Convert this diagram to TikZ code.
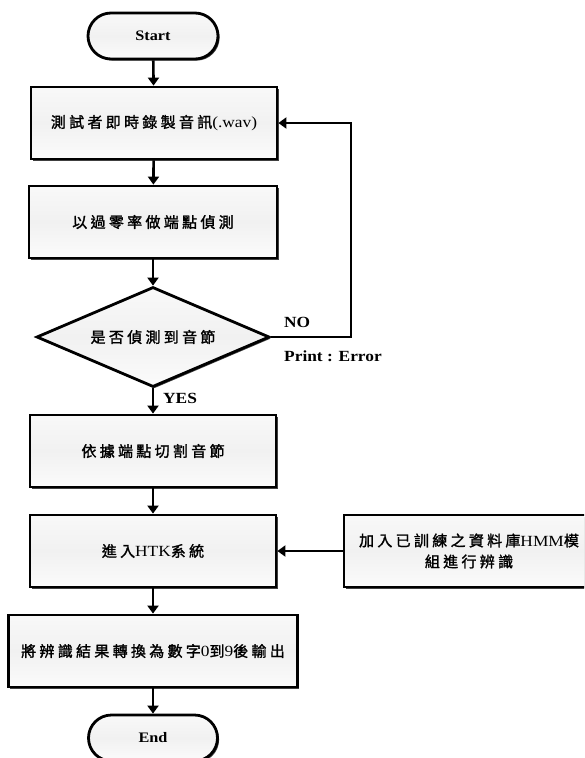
\documentclass[tikz,border=0pt]{standalone}
\usepackage{fontspec}
\setmainfont{Liberation Serif}[FakeStretch=1.12]
\newfontfamily\cjk{Noto Sans CJK TC}[LetterSpace=22, FakeBold=1.6]
\usetikzlibrary{arrows.meta,shapes.geometric,shadows}

\tikzset{
  boxfill/.style={top color=gray!5, bottom color=gray!3, middle color=gray!11},
  shade/.style={drop shadow={shadow xshift=1.6pt, shadow yshift=-1.6pt, fill=black, opacity=0.75}},
  procbox/.style={draw=black, line width=2.8pt, boxfill, shade, rectangle,
    minimum width=246pt, minimum height=72pt, inner sep=0pt, align=center,
    font=\fontsize{15.5}{20}\selectfont},
  termbox/.style={draw=black, line width=2.8pt, boxfill, shade, rectangle,
    rounded corners=23pt, minimum width=130pt, minimum height=46pt, inner sep=0pt,
    font=\fontsize{14.5}{16}\selectfont\bfseries},
  decbox/.style={draw=black, line width=2.8pt, boxfill, shade, diamond,
    minimum width=233pt, minimum height=100pt, inner sep=0pt},
  flow/.style={line width=2.6pt, -{Triangle[width=11pt,length=8pt]}},
  lbl/.style={font=\fontsize{15.5}{18}\selectfont\bfseries, inner sep=0pt}
}

\begin{document}
\begin{tikzpicture}[x=1pt,y=-1pt]
\useasboundingbox (0,0) rectangle (584,758);
\clip (0,0) rectangle (584,758);

% main column
\node[termbox] (start) at (153,36) {Start};
\node[procbox] (rec) at (154,123) {{\cjk\fontsize{15}{20}\selectfont 測試者即時錄製音訊}(.wav)};
\node[procbox, minimum width=248pt] (zcr) at (153,222) {{\cjk\fontsize{15}{20}\selectfont 以過零率做端點偵測}};
\node[decbox] (dec) at (153,337) {};
\node at (dec) {{\cjk\fontsize{15}{20}\selectfont 是否偵測到音節}};
\node[procbox] (cut) at (153,451) {{\cjk\fontsize{15}{20}\selectfont 依據端點切割音節}};
\node[procbox] (htk) at (153,551) {{\cjk\fontsize{15}{20}\selectfont 進入}HTK{\cjk\fontsize{15}{20}\selectfont 系統}};
\node[procbox, minimum width=289pt] (out) at (153,651)
  {{\cjk\fontsize{15}{20}\selectfont 將辨識結果轉換為數字}0{\cjk\fontsize{15}{20}\selectfont 到}9{\cjk\fontsize{15}{20}\selectfont 後輸出}};
\node[termbox, minimum width=129pt] (end) at (153,738) {End};

% side input
\node[procbox, minimum width=250pt] (hmm) at (469,551)
  {{\cjk\fontsize{15}{20}\selectfont 加入已訓練之資料庫}HMM{\cjk\fontsize{15}{20}\selectfont 模}\\[1pt]{\cjk\fontsize{15}{20}\selectfont 組進行辨識}};

% connectors
\draw[flow] (start) -- (rec);
\draw[flow] (rec) -- (zcr);
\draw[flow] (zcr) -- (dec.north);
\draw[flow] (dec.south) -- (cut);
\draw[flow] (cut) -- (htk);
\draw[flow] (htk) -- (out);
\draw[flow] (out) -- (end);
\draw[flow] (hmm.west) -- (htk.east);

% retry loop
\coordinate (loopcorner) at (351,337);
\draw[flow] (dec.east) -- (loopcorner) |- (rec.east);

% labels
\node[lbl, anchor=west] (no) at (284,322) {NO};
\node[lbl, anchor=west] (err) at (284,356) {Print : Error};
\node[lbl, anchor=west] (yes) at (163,398) {YES};
\end{tikzpicture}
\end{document}
